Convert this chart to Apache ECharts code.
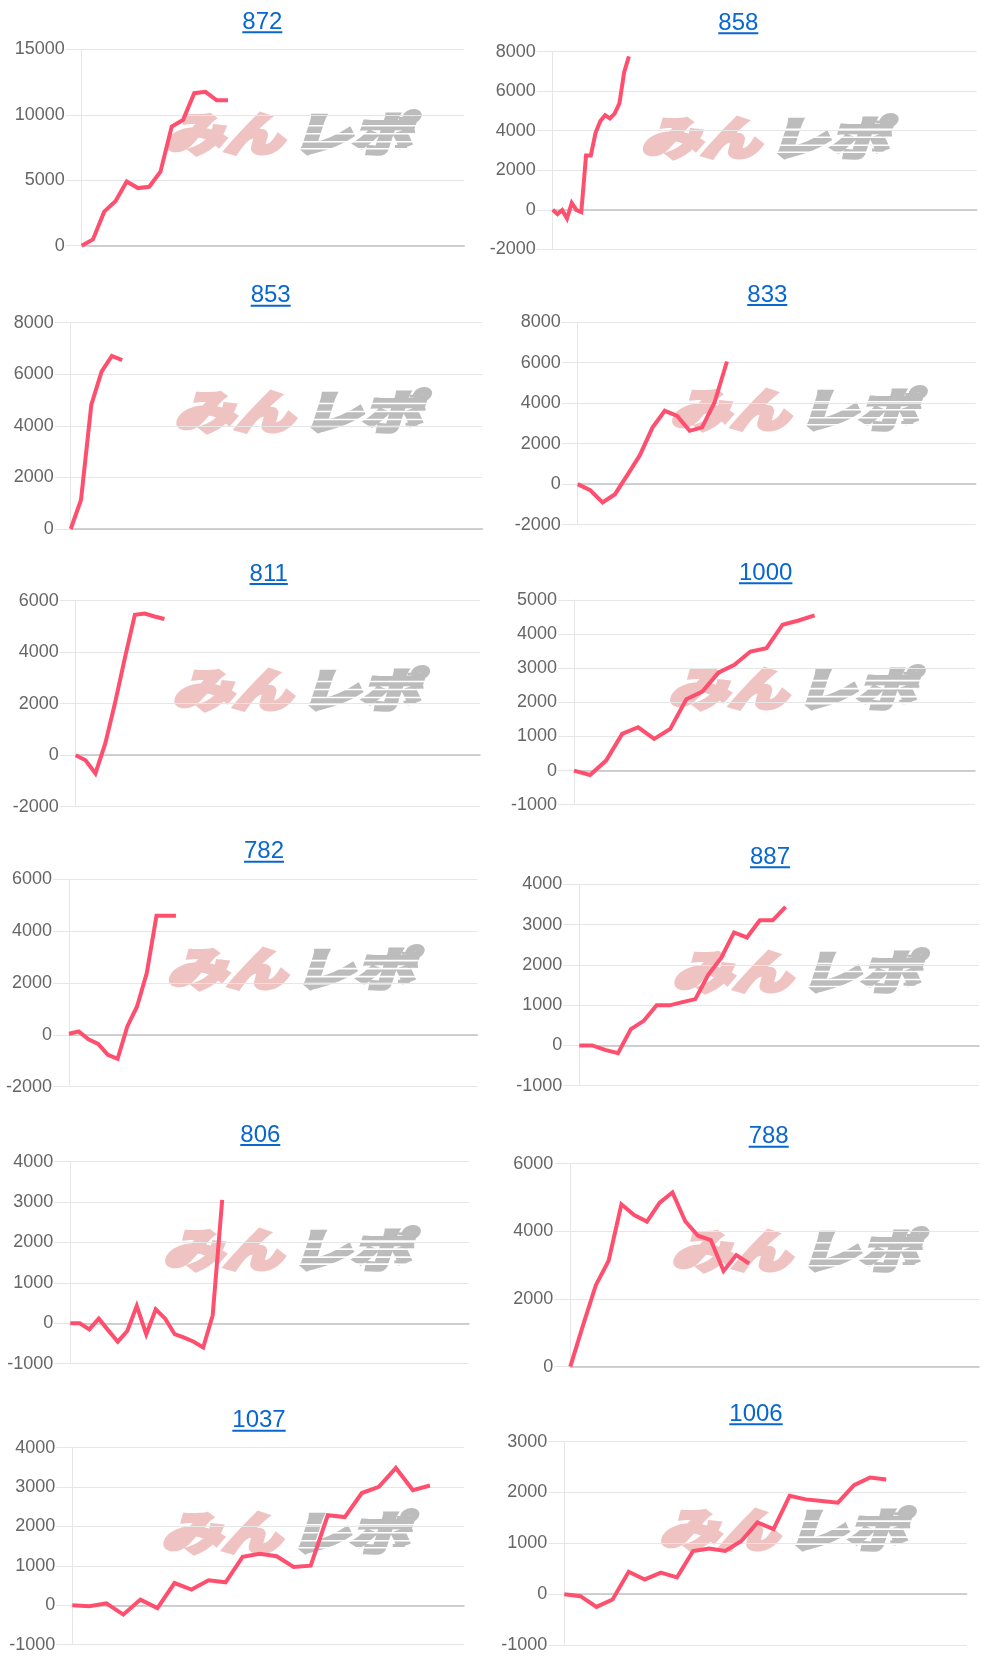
<!DOCTYPE html>
<html>
<head>
<meta charset="utf-8">
<script src="https://cdn.jsdelivr.net/npm/echarts@6/dist/echarts.min.js"></script>
<style>
html,body{margin:0;padding:0;background:#fff;}
#wrap{position:relative;width:1000px;height:1667px;overflow:hidden;}
.cell{position:absolute;overflow:hidden;}
</style>
</head>
<body>
<div id="wrap"></div>
<script>
// ---- data ----
const titles = ['872','858','853','833','811','1000','782','887','806','788','1037','1006'];

const s872  = [0, 480, 2600, 3400, 4900, 4400, 4500, 5650, 9100, 9600, 11650, 11750, 11100, 11100];
const s858  = [0, -220, -20, -440, 350, -20, -120, 2750, 2750, 3900, 4490, 4790, 4620, 4870, 5380, 6960, 7760];
const s853  = [0, 1125, 4810, 6100, 6710, 6550];
const s833  = [0, -295, -905, -495, 460, 1430, 2780, 3620, 3370, 2630, 2800, 4030, 6050];
const s811  = [0, -195, -710, 455, 2050, 3800, 5450, 5500, 5385, 5290];
const s1000 = [0, -127, 293, 1075, 1270, 930, 1222, 2090, 2315, 2870, 3100, 3490, 3590, 4275, 4400, 4550];
const s782  = [40, 130, -170, -350, -770, -925, 320, 1090, 2375, 4585, 4585, 4585];
const s887  = [0, 0, -110, -190, 405, 610, 995, 995, 1075, 1150, 1755, 2170, 2805, 2680, 3105, 3105, 3440];
const s806  = [0, 0, -150, 115, -175, -455, -190, 430, -270, 345, 115, -270, -355, -455, -600, 200, 3055];
const s788  = [0, 1230, 2410, 3130, 4800, 4480, 4290, 4850, 5150, 4300, 3870, 3740, 2830, 3300, 3050];
const s1037 = [0, -25, 50, -235, 145, -70, 565, 400, 635, 585, 1230, 1310, 1245, 975, 1005, 2285, 2240, 2850, 3005, 3485, 2920, 3040];
const s1006 = [0, -40, -250, -105, 440, 290, 425, 330, 850, 900, 850, 1045, 1410, 1280, 1935, 1865, 1835, 1800, 2145, 2295, 2255];

const seriesValues = [s872, s858, s853, s833, s811, s1000, s782, s887, s806, s788, s1037, s1006];

const yMins      = [0,     -2000, 0,    -2000, -2000, -1000, -2000, -1000, -1000, 0,    -1000, -1000];
const yMaxs      = [15000,  8000, 8000,  8000,  6000,  5000,  6000,  4000,  4000, 6000,  4000,  3000];
const yIntervals = [5000,   2000, 2000,  2000,  2000,  1000,  2000,  1000,  1000, 2000,  1000,  1000];

// number of intervals along each x axis (category slots - 1)
const xIntervals = [34, 89, 40, 32, 41, 25, 42, 31, 42, 32, 23, 25];

// ---- layout (positions only) ----
const PAD = 40; // extra room on the left of each canvas so tick labels may overhang the cell
const rowTops = [0, 275, 555, 835, 1115, 1395];
const rowHeights = [275, 280, 280, 280, 280, 272];
const layout = [
 {col:0,row:0,left:81.7,top:49.3,right:35.7,bottom:29.3,tx:262.3,ul:32.3,wx:287,wy:134},
 {col:1,row:0,left:52.7,top:51.7,right:23.3,bottom:25.7,tx:238.3,ul:33.3,wx:264,wy:137.5},
 {col:0,row:1,left:70.7,top:47.7,right:17.7,bottom:26,tx:270.7,ul:30.7,wx:297.5,wy:136.7},
 {col:1,row:1,left:77.7,top:47,right:24.3,bottom:30.3,tx:267.3,ul:30,wx:293.3,wy:135},
 {col:0,row:2,left:75.7,top:45.7,right:20,bottom:28.3,tx:268.7,ul:29,wx:295.5,wy:134.7},
 {col:1,row:2,left:74,top:45,right:25,bottom:30.3,tx:265.7,ul:28.3,wx:291.3,wy:133.8},
 {col:0,row:3,left:69,top:44,right:22.7,bottom:28.3,tx:264,ul:26.7,wx:290,wy:133.8},
 {col:1,row:3,left:79.3,top:49.3,right:21,bottom:29.3,tx:270,ul:32.3,wx:295.5,wy:136.7},
 {col:0,row:4,left:70.3,top:46.7,right:31,bottom:31.3,tx:260.3,ul:30,wx:286.3,wy:134.3},
 {col:1,row:4,left:70.3,top:48.7,right:21,bottom:28.3,tx:268.7,ul:31.7,wx:294.7,wy:136},
 {col:0,row:5,left:72.3,top:52.7,right:36,bottom:22.3,tx:259,ul:35.7,wx:284.7,wy:138},
 {col:1,row:5,left:64.3,top:46.7,right:33.3,bottom:22,tx:256,ul:29.3,wx:282.3,wy:134.3}
];

const LINE_COLOR = '#ff4f6f';
const GRID_COLOR = '#e6e6e6';
const ZERO_COLOR = '#c2c2c2';
const LINK_COLOR = '#0866d0';
const FONT = '"Liberation Sans", Arial, Helvetica, sans-serif';
const TITLE_SIZE = 24;
const WM_PINK = '#f0c3c3';
const WM_GRAY = '#bcbcbc';

const measureCanvas = document.createElement('canvas').getContext('2d');
function textWidth(t, font) { measureCanvas.font = font; return measureCanvas.measureText(t).width; }

const wrap = document.getElementById('wrap');

function watermark(cx, cy) {
  const wmFont = 'italic 900 46px "Noto Sans CJK JP", "Noto Sans CJK SC", sans-serif';
  const kids = [
    {
      type: 'text', x: -4, y: 0, scaleX: 1.3,
      style: {text: 'みん', fill: WM_PINK, stroke: WM_PINK, lineWidth: 3.5, lineJoin: 'round', font: wmFont,
              align: 'right', verticalAlign: 'middle', textAlign: 'right', textVerticalAlign: 'middle'}
    },
    {
      type: 'text', x: 4, y: 0, scaleX: 1.3,
      style: {text: 'レポ', fill: WM_GRAY, stroke: WM_GRAY, lineWidth: 3.5, lineJoin: 'round', font: wmFont,
              align: 'left', verticalAlign: 'middle', textAlign: 'left', textVerticalAlign: 'middle'}
    }
  ];
  [-9, -1, 7, 14].forEach(dy => {
    kids.push({type: 'rect', shape: {x: 0, y: dy, width: 130, height: 1.6}, style: {fill: '#ffffff'}});
  });
  [[-17, 112, 14], [-4, 118, 10], [11, 108, 12]].forEach(([dy, x0, w]) => {
    kids.push({type: 'rect', shape: {x: x0, y: dy, width: w, height: 3}, style: {fill: WM_GRAY}});
  });
  return {type: 'group', x: cx, y: cy, z: -1, silent: true, children: kids};
}

titles.forEach((title, i) => {
  const L = layout[i];
  const W = 500 + PAD;
  const H = rowHeights[L.row];
  const div = document.createElement('div');
  div.className = 'cell';
  div.style.left = (L.col * 500 - PAD) + 'px';
  div.style.top = rowTops[L.row] + 'px';
  div.style.width = W + 'px';
  div.style.height = H + 'px';
  wrap.appendChild(div);

  const chart = echarts.init(div, null, {renderer: 'canvas', width: W, height: H});
  const cats = Array.from({length: xIntervals[i] + 1}, (_, k) => String(k + 1));
  const titleFont = TITLE_SIZE + 'px ' + FONT;
  const tw = textWidth(title, titleFont);
  const tx = L.tx + PAD;

  chart.setOption({
    animation: false,
    grid: {left: L.left + PAD, top: L.top, right: L.right, bottom: L.bottom, containLabel: false, outerBoundsMode: 'none'},
    xAxis: {
      type: 'category', data: cats, boundaryGap: false,
      axisLine: {show: true, onZero: true, lineStyle: {color: ZERO_COLOR, width: 1.5}},
      axisTick: {show: false}, axisLabel: {show: false}, splitLine: {show: false}
    },
    yAxis: {
      type: 'value', min: yMins[i], max: yMaxs[i], interval: yIntervals[i],
      axisLine: {show: true, lineStyle: {color: GRID_COLOR, width: 1}},
      axisTick: {show: true, length: 16, lineStyle: {color: GRID_COLOR, width: 1}},
      axisLabel: {margin: 17, color: '#666', fontSize: 18, fontFamily: FONT, formatter: v => String(v)},
      splitLine: {show: true, lineStyle: {color: GRID_COLOR, width: 1}}
    },
    series: [{
      type: 'line', data: seriesValues[i], showSymbol: false, symbol: 'none',
      z: 5,
      lineStyle: {color: LINE_COLOR, width: 4, join: 'miter', cap: 'butt'},
      itemStyle: {color: LINE_COLOR}
    }],
    graphic: [
      watermark(L.wx + PAD, L.wy),
      {
        type: 'text', x: tx, y: L.ul - 10, z: 10,
        style: {text: title, fill: LINK_COLOR, font: titleFont,
                align: 'center', verticalAlign: 'middle', textAlign: 'center', textVerticalAlign: 'middle'}
      },
      {
        type: 'rect', z: 10,
        shape: {x: tx - tw / 2, y: L.ul - 1, width: tw, height: 2},
        style: {fill: LINK_COLOR}
      }
    ]
  });
});
</script>
</body>
</html>
